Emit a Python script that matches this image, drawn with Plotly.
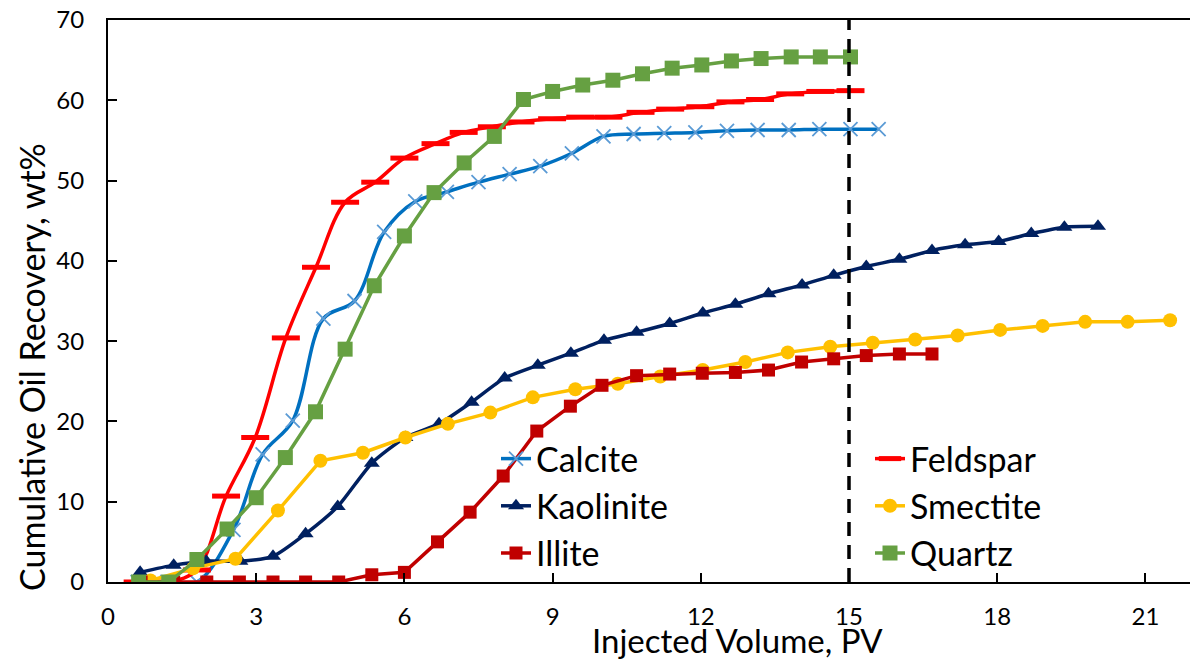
import plotly.graph_objects as go

# ---------------- data ----------------
calcite_x = [0.6, 1.2, 1.8, 2.54, 3.13, 3.74, 4.36, 4.99, 5.59, 6.22, 6.86, 7.5, 8.13, 8.75, 9.39, 10.03,
             10.64, 11.26, 11.89, 12.53, 13.15, 13.78, 14.4, 15.03, 15.6]
calcite_y = [0, 0, 0, 6.5, 15.9, 20.1, 32.8, 35.0, 43.6, 47.4, 48.6, 49.8, 50.8, 51.8, 53.4, 55.5,
             55.8, 55.9, 56.0, 56.2, 56.3, 56.3, 56.4, 56.4, 56.4]

feldspar_x = [0.6, 1.2, 1.8, 2.39, 2.98, 3.6, 4.21, 4.8, 5.41, 6.0, 6.63, 7.2, 7.77, 8.35, 8.99, 9.56,
              10.13, 10.78, 11.38, 11.99, 12.6, 13.2, 13.81, 14.42, 15.03]
feldspar_y = [0, 0, 1.5, 10.7, 18.0, 30.4, 39.2, 47.3, 49.8, 52.8, 54.6, 56.0, 56.7, 57.3, 57.7, 57.9,
              57.9, 58.5, 58.9, 59.2, 59.8, 60.1, 60.8, 61.1, 61.2]

kaolinite_x = [0.65, 1.33, 1.99, 2.68, 3.34, 4.0, 4.65, 5.34, 6.02, 6.7, 7.36, 8.03, 8.7, 9.37, 10.04,
               10.7, 11.37, 12.04, 12.7, 13.37, 14.05, 14.69, 15.35, 16.02, 16.68, 17.35, 18.03,
               18.69, 19.36, 20.04]
kaolinite_y = [1.2, 2.1, 2.6, 2.6, 3.2, 6.0, 9.4, 14.8, 18.0, 19.7, 22.4, 25.4, 27.0, 28.5, 30.1,
               31.1, 32.2, 33.5, 34.6, 35.9, 37.0, 38.2, 39.3, 40.2, 41.3, 42.0, 42.4,
               43.4, 44.2, 44.3]

smectite_x = [0.86, 1.72, 2.58, 3.44, 4.3, 5.16, 6.02, 6.88, 7.74, 8.6, 9.46, 10.32, 11.18, 12.04,
              12.9, 13.76, 14.62, 15.48, 16.34, 17.2, 18.06, 18.92, 19.78, 20.64, 21.5]
smectite_y = [0.2, 1.7, 2.9, 8.9, 15.1, 16.1, 18.0, 19.7, 21.1, 23.0, 24.0, 24.7, 25.6, 26.4,
              27.4, 28.6, 29.3, 29.8, 30.2, 30.7, 31.4, 31.9, 32.4, 32.4, 32.6]

illite_x = [0.67, 1.33, 2.0, 2.66, 3.34, 4.0, 4.67, 5.34, 6.0, 6.67, 7.33, 8.0, 8.68, 9.36, 10.0,
            10.7, 11.37, 12.03, 12.7, 13.37, 14.04, 14.69, 15.35, 16.02, 16.68]
illite_y = [0, 0, 0, 0, 0, 0, 0, 0.9, 1.2, 5.0, 8.7, 13.2, 18.8, 21.9, 24.5,
            25.7, 25.9, 26.0, 26.1, 26.4, 27.4, 27.8, 28.2, 28.4, 28.4]

quartz_x = [0.62, 1.23, 1.8, 2.41, 3.0, 3.59, 4.2, 4.8, 5.39, 6.0, 6.6, 7.21, 7.82, 8.41, 9.0, 9.61,
            10.22, 10.82, 11.42, 12.02, 12.62, 13.22, 13.83, 14.42, 15.03]
quartz_y = [0, 0, 2.8, 6.6, 10.5, 15.5, 21.2, 29.0, 36.9, 43.1, 48.5, 52.2, 55.5, 60.1, 61.1, 61.9,
            62.5, 63.3, 64.0, 64.4, 64.9, 65.2, 65.4, 65.4, 65.4]

reference_pv = 15  # dashed vertical reference line

x_ticks = [0, 3, 6, 9, 12, 15, 18, 21]
y_ticks = [0, 10, 20, 30, 40, 50, 60, 70]

FONT = "Lato"
W, H = 1190, 662
L, R, T, B = 108, 0, 20, 80
PW, PH = W - L - R, H - T - B


def px_x(p):
    return (p - L) / PW


def px_y(p):
    return (H - B - p) / PH


fig = go.Figure()

fig.add_trace(go.Scatter(
    x=calcite_x, y=calcite_y, name="Calcite", mode="lines+markers",
    line=dict(color="#0070C0", width=3.5, shape="spline", smoothing=1),
    marker=dict(symbol="x-thin", size=14, line=dict(color="#5B9BD5", width=1.8)),
    legend="legend"))
fig.add_trace(go.Scatter(
    x=feldspar_x, y=feldspar_y, name="Feldspar", mode="lines+markers",
    line=dict(color="#FF0000", width=3.5, shape="spline", smoothing=1),
    marker=dict(symbol="line-ew", size=20, line=dict(color="#FF0000", width=5)),
    legend="legend2"))
fig.add_trace(go.Scatter(
    x=kaolinite_x, y=kaolinite_y, name="Kaolinite", mode="lines+markers",
    line=dict(color="#002060", width=3.5, shape="spline", smoothing=0.6),
    marker=dict(symbol="triangle-up", size=14, color="#002060"),
    legend="legend"))
fig.add_trace(go.Scatter(
    x=smectite_x, y=smectite_y, name="Smectite", mode="lines+markers",
    line=dict(color="#FFC000", width=3.5),
    marker=dict(symbol="circle", size=14, color="#FFC000"),
    legend="legend2"))
fig.add_trace(go.Scatter(
    x=illite_x, y=illite_y, name="Illite", mode="lines+markers",
    line=dict(color="#C00000", width=3.5),
    marker=dict(symbol="square", size=13, color="#C00000"),
    legend="legend"))
fig.add_trace(go.Scatter(
    x=quartz_x, y=quartz_y, name="Quartz", mode="lines+markers",
    line=dict(color="#66A042", width=3.5),
    marker=dict(symbol="square", size=15, color="#66A042"),
    legend="legend2"))

fig.add_shape(type="line", xref="x", yref="paper", x0=reference_pv, x1=reference_pv, y0=0, y1=1,
              line=dict(color="black", width=3.5, dash="14px,9px"))

axis_common = dict(showgrid=False, zeroline=False, showline=True, linecolor="black", linewidth=2,
                   ticks="inside", ticklen=9, tickwidth=2, tickcolor="black",
                   tickfont=dict(family=FONT, size=24, color="black"))

fig.update_xaxes(range=[0, PW / 49.4], tickvals=x_ticks, mirror=True, ticklabelstandoff=12,
                 **axis_common)
fig.update_yaxes(range=[0, 70], tickvals=y_ticks, ticklabelstandoff=17, **axis_common)

legend_common = dict(font=dict(family=FONT, size=34, color="black"), bgcolor="rgba(0,0,0,0)",
                     yanchor="top", xanchor="left", tracegroupgap=0)

fig.update_layout(
    width=W, height=H,
    margin=dict(l=L, r=R, t=T, b=B),
    plot_bgcolor="white", paper_bgcolor="white",
    legend=dict(x=px_x(496), y=px_y(430), **legend_common),
    legend2=dict(x=px_x(870), y=px_y(430), **legend_common),
    annotations=[
        dict(text="Cumulative Oil Recovery, wt%", xref="paper", yref="paper",
             x=px_x(31), y=px_y(367), textangle=-90, showarrow=False,
             xanchor="center", yanchor="middle", font=dict(family=FONT, size=34, color="black")),
        dict(text="Injected Volume, PV", xref="paper", yref="paper",
             x=px_x(737), y=px_y(640), showarrow=False,
             xanchor="center", yanchor="middle", font=dict(family=FONT, size=33, color="black")),
    ],
)

fig.write_html("out.html")
